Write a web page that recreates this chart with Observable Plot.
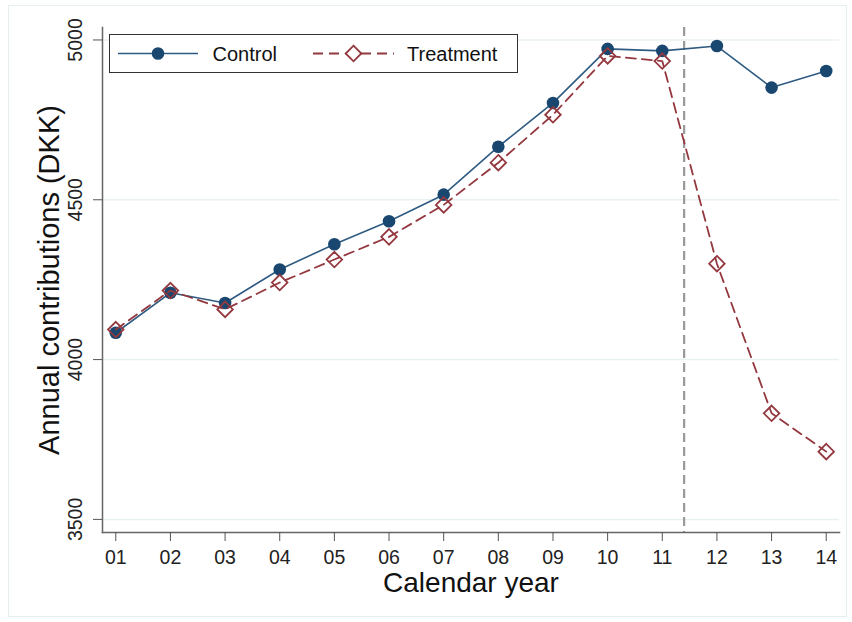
<!DOCTYPE html>
<html>
<head>
<meta charset="utf-8">
<script src="https://cdn.jsdelivr.net/npm/d3@7"></script>
<script src="https://cdn.jsdelivr.net/npm/@observablehq/plot@0.6"></script>
<style>
  html, body { margin: 0; padding: 0; background: #fff; }
  #wrap { position: relative; width: 852px; height: 622px; font-family: "Liberation Sans", Arial, sans-serif; }
  #outer { position: absolute; left: 8px; top: 5px; width: 839px; height: 612px; border: 1px solid #e6eef0; box-sizing: border-box; pointer-events: none; }
  #legend { position: absolute; left: 109px; top: 34px; width: 409px; height: 39px; box-sizing: border-box; border: 1px solid #333; background: #fff; }
</style>
</head>
<body>
<div id="wrap">
  <div id="chart"></div>
  <div id="outer"></div>
  <div id="legend"></div>
</div>
<script>
// Data
const years = [1, 2, 3, 4, 5, 6, 7, 8, 9, 10, 11, 12, 13, 14];
const yearLabels = ["01","02","03","04","05","06","07","08","09","10","11","12","13","14"];
const controlValues = [4084, 4209, 4177, 4282, 4361, 4433, 4516, 4666, 4803, 4972, 4966, 4981, 4851, 4903];
const treatmentValues = [4094, 4216, 4157, 4241, 4313, 4384, 4484, 4616, 4766, 4950, 4934, 4300, 3832, 3712];
const yTicks = [3500, 4000, 4500, 5000];
const cutoffYear = [11.4];
const seriesNames = ["Control", "Treatment"];

const control = years.map((y, i) => ({year: y, value: controlValues[i]}));
const treatment = years.map((y, i) => ({year: y, value: treatmentValues[i]}));

const navy = "#1a476f";
const navyLine = "#2f5b82";
const red = "#94383f";

const chart = Plot.plot({
  width: 852,
  height: 622,
  marginLeft: 102,
  marginRight: 13,
  marginTop: 27,
  marginBottom: 90,
  style: {fontFamily: "'Liberation Sans', Arial, sans-serif", background: "transparent", overflow: "visible"},
  x: {type: "linear", domain: [0.757, 14.243]},
  y: {domain: [3459, 5039]},
  marks: [
    Plot.ruleY(yTicks, {stroke: "#eaf1f3", strokeWidth: 1.5}),
    Plot.ruleX(cutoffYear, {stroke: "#999", strokeWidth: 2.2, strokeDasharray: "9,5"}),
    Plot.line(control, {x: "year", y: "value", stroke: navyLine, strokeWidth: 1.6}),
    Plot.dot(control, {x: "year", y: "value", r: 6.3, fill: navy, stroke: "none"}),
    Plot.line(treatment, {x: "year", y: "value", stroke: red, strokeWidth: 1.8, strokeDasharray: "10,6"}),
    Plot.dot(treatment, {x: "year", y: "value", symbol: "diamond2", r: 7, stroke: red, strokeWidth: 1.8, fill: "none"}),
    Plot.frame({anchor: "left", stroke: "#666", strokeWidth: 1.5}),
    Plot.frame({anchor: "bottom", stroke: "#666", strokeWidth: 1.5}),
    Plot.axisX(years, {tickSize: 9, tickPadding: 9, tickFormat: d => yearLabels[years.indexOf(d)], fontSize: 19.5, fill: "#222", stroke: "#555", label: null}),
    Plot.axisY(yTicks, {tickSize: 9, tickFormat: () => "", stroke: "#555", label: null}),
    Plot.text(yTicks, {y: d => d, text: d => String(d), frameAnchor: "left", dx: -27, rotate: -90, fontSize: 19.5, fill: "#222", textAnchor: "middle", lineAnchor: "middle"}),
    Plot.text(["Annual contributions (DKK)"], {text: d => d, frameAnchor: "left", dx: -53, rotate: -90, fontSize: 29, fill: "#111", textAnchor: "middle", lineAnchor: "middle"}),
    Plot.text(["Calendar year"], {text: d => d, frameAnchor: "bottom", dy: 51, fontSize: 28, fill: "#111", textAnchor: "middle", lineAnchor: "middle"})
  ]
});
document.getElementById("chart").appendChild(chart);

// Legend
const lg = `<svg width="409" height="39" style="display:block;position:absolute;left:-1px;top:-1px;font-family:'Liberation Sans', Arial, sans-serif">
  <line x1="9" x2="89" y1="19.5" y2="19.5" stroke="${navyLine}" stroke-width="1.6"/>
  <circle cx="49" cy="19.5" r="6.3" fill="${navy}"/>
  <text x="103.5" y="27" font-size="20" fill="#111">${seriesNames[0]}</text>
  <line x1="204" x2="285" y1="19.5" y2="19.5" stroke="${red}" stroke-width="1.8" stroke-dasharray="10,6"/>
  <path d="M244.5,11.7L252.3,19.5L244.5,27.3L236.7,19.5Z" fill="#fff" stroke="${red}" stroke-width="1.8"/>
  <text x="298" y="27" font-size="20" fill="#111">${seriesNames[1]}</text>
</svg>`;
document.getElementById("legend").innerHTML = lg;
</script>
</body>
</html>
